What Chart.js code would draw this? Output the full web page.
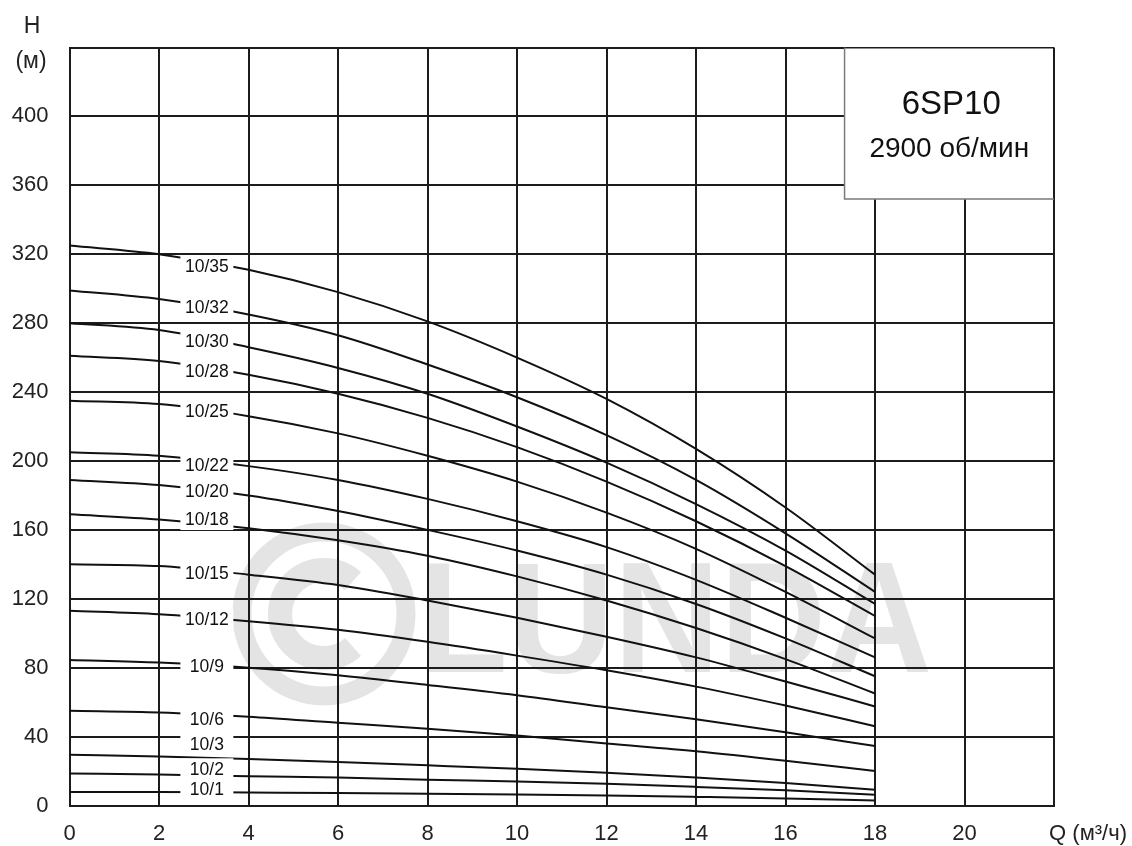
<!DOCTYPE html>
<html><head><meta charset="utf-8">
<script src="https://cdn.jsdelivr.net/npm/chart.js@4/dist/chart.umd.min.js"></script>
<style>html,body{margin:0;padding:0;background:#fff;}canvas{display:block;}</style>
</head><body>
<canvas id="c" width="1132" height="846"></canvas>
<script>
// ---- data ----
const flowQ = [0, 2, 4, 6, 8, 10, 12, 14, 16, 18];           // Q, m3/h
const h_10_35 = [325, 320, 311, 298, 281, 260, 236, 207, 173, 134];
const h_10_32 = [299, 294, 285, 273, 256, 237, 215, 189, 158, 124];
const h_10_30 = [280, 276, 266, 254, 239, 220, 199, 175, 148, 117];
const h_10_28 = [261, 258, 250, 239, 225, 208, 188, 165, 139, 110];
const h_10_25 = [235, 233, 226, 216, 203, 188, 170, 149, 124, 97];
const h_10_22 = [205, 203, 197, 189, 178, 165, 150, 131, 109, 86];
const h_10_20 = [189, 186, 180, 171, 160, 148, 134, 117, 97, 75];
const h_10_18 = [169, 166, 161, 154, 145, 133, 119, 103, 85, 65];
const h_10_15 = [140, 139, 134, 128, 119, 109, 98, 86, 72, 57.5];
const h_10_12 = [113, 111, 107, 102, 95, 87, 78.5, 69, 58, 46];
const h_10_9  = [84.5, 83, 80, 75.6, 70, 64, 57, 50, 42.5, 34.5];
const h_10_6  = [55, 54, 51.5, 48, 44.6, 40.7, 36, 31.5, 26, 20];
const h_10_3  = [29.5, 28.5, 27, 25.2, 23.3, 21.3, 19, 16.2, 13, 9.1];
const h_10_2  = [18.6, 18, 17, 16.3, 15, 14, 12.6, 10.8, 8.8, 6.2];
const h_10_1  = [7.8, 7.8, 7.5, 7.2, 6.8, 6.4, 5.8, 5, 4.1, 2.9];
const modelNames = ['10/35','10/32','10/30','10/28','10/25','10/22','10/20','10/18','10/15','10/12','10/9','10/6','10/3','10/2','10/1'];
const modelHeads = [h_10_35,h_10_32,h_10_30,h_10_28,h_10_25,h_10_22,h_10_20,h_10_18,h_10_15,h_10_12,h_10_9,h_10_6,h_10_3,h_10_2,h_10_1];
const labelQ = 3.07;                                          // where the curve names sit
const labelH = [313, 289.4, 269.8, 252, 228.7, 197.7, 182.2, 166, 134.7, 108, 80.8, 50.4, 35.8, 21.3, 9.7];
const xTickValues = [0,2,4,6,8,10,12,14,16,18,20];
const yTickValues = [0,40,80,120,160,200,240,280,320,360,400];
const modelTitle = '6SP10';
const speedText = '2900 об/мин';
const boxQ = 17.32, boxH = 352;                               // lower-left corner of the title box

const FONT = "'Liberation Sans', Arial, Helvetica, sans-serif";
const INK = '#1c1c1c';

const datasets = modelNames.map((n, i) => ({
  label: n,
  data: flowQ.map((q, j) => ({x: q, y: modelHeads[i][j]})),
  borderColor: '#111', borderWidth: 2, pointRadius: 0, fill: false,
  cubicInterpolationMode: 'monotone'
}));

const decor = {
  id: 'decor',
  beforeDraw(chart) {
    const ctx = chart.ctx;
    ctx.save();
    ctx.fillStyle = '#fff';
    ctx.fillRect(0, 0, chart.width, chart.height);
    // light watermark
    ctx.strokeStyle = '#e4e4e4';
    ctx.fillStyle = '#e4e4e4';
    ctx.lineWidth = 19;
    ctx.beginPath(); ctx.arc(324, 614, 82, 0, Math.PI * 2); ctx.stroke();
    ctx.lineWidth = 24;
    ctx.beginPath(); ctx.arc(324, 614, 44, Math.PI * 0.27, Math.PI * 1.73); ctx.stroke();
    ctx.font = 'bold 158px ' + FONT;
    ctx.textBaseline = 'alphabetic';
    ctx.save();
    ctx.translate(418, 672);
    ctx.scale(0.93, 1);
    ctx.fillText('LUNDA', 0, 0);
    ctx.restore();
    ctx.restore();
  },
  afterDatasetsDraw(chart) {
    const ctx = chart.ctx, xs = chart.scales.x, ys = chart.scales.y;
    ctx.save();
    // curve names with white backing
    ctx.font = '17.5px ' + FONT;
    ctx.textAlign = 'center';
    ctx.textBaseline = 'middle';
    modelNames.forEach((n, i) => {
      const px = xs.getPixelForValue(labelQ), py = ys.getPixelForValue(labelH[i]);
      ctx.fillStyle = '#fff';
      ctx.fillRect(px - 26.5, py - 10.5, 53, 21);
      ctx.fillStyle = '#111';
      ctx.fillText(n, px, py + 1);
    });
    // title box
    const bx = xs.getPixelForValue(boxQ), by = ys.getPixelForValue(boxH);
    const rx = chart.chartArea.right, ty = chart.chartArea.top;
    ctx.fillStyle = '#fff';
    ctx.fillRect(bx, ty + 1, rx - bx - 1, by - ty - 1);
    ctx.strokeStyle = '#7a7a7a';
    ctx.lineWidth = 1.5;
    ctx.beginPath();
    ctx.moveTo(bx, ty); ctx.lineTo(bx, by); ctx.lineTo(rx, by);
    ctx.stroke();
    ctx.fillStyle = '#111';
    ctx.font = '33px ' + FONT;
    ctx.fillText(modelTitle, (bx + rx) / 2 + 2, 105);
    ctx.font = '28px ' + FONT;
    ctx.fillText(speedText, (bx + rx) / 2, 149);
    // axis titles
    ctx.fillStyle = '#222';
    ctx.font = '23px ' + FONT;
    ctx.fillText('H', 32, 27);
    ctx.fillText('(м)', 31, 62);
    ctx.textAlign = 'right';
    ctx.font = '22px ' + FONT;
    ctx.fillText('Q (м³/ч)', 1127, 834);
    ctx.restore();
  }
};

new Chart(document.getElementById('c'), {
  type: 'line',
  data: { datasets },
  options: {
    responsive: false, animation: false,
    layout: { padding: { left: 0, right: 78, top: 47.5, bottom: 0 } },
    plugins: { legend: { display: false }, tooltip: { enabled: false } },
    scales: {
      x: {
        type: 'linear', min: 0, max: 22,
        afterBuildTicks: s => { s.ticks = [...xTickValues, 22].map(v => ({value: v})); },
        afterFit: s => { s.height = 40.5; },
        grid: { color: INK, lineWidth: 2, drawTicks: false },
        border: { color: INK, width: 2 },
        ticks: { padding: 15, color: '#222', font: { family: FONT, size: 22 }, maxRotation: 0,
                 autoSkip: false, callback: v => xTickValues.includes(v) ? String(v) : '' }
      },
      y: {
        type: 'linear', min: 0, max: 440,
        afterBuildTicks: s => { s.ticks = [...yTickValues, 440].map(v => ({value: v})); },
        afterFit: s => { s.width = 69.5; },
        grid: { color: INK, lineWidth: 2, drawTicks: false },
        border: { color: INK, width: 2 },
        ticks: { padding: 21, color: '#222', font: { family: FONT, size: 22 },
                 autoSkip: false, callback: v => yTickValues.includes(v) ? String(v) : '' }
      }
    }
  },
  plugins: [decor]
});
</script>
</body></html>
